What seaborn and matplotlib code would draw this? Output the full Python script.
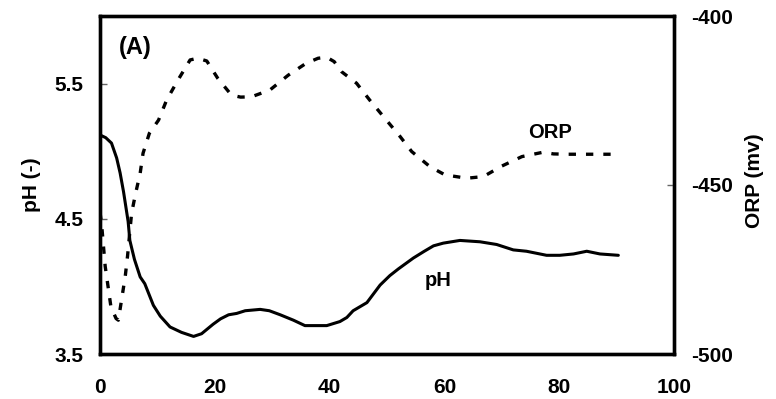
import matplotlib
matplotlib.use("Agg")
import matplotlib.pyplot as plt
import seaborn as sns
import pandas as pd

# ---- data ----
ph_time = [0, 1, 2, 2.9, 3.5, 4.1, 4.9, 5.2, 6.0, 7.0, 7.8, 9.3, 10.5, 12.2, 14.2,
           16.3, 17.7, 19.7, 21.0, 22.4, 23.8, 25.3, 27.9, 29.5, 31.4, 33.7, 35.7,
           37.5, 39.5, 41.8, 43.0, 44.1, 46.5, 48.8, 50.5, 52.0, 54.6, 56.5, 58.1,
           59.8, 62.7, 66.2, 69.1, 72.0, 74.3, 77.8, 80.1, 82.5, 84.8, 87.1, 90.3]
ph_values = [5.12, 5.10, 5.06, 4.95, 4.84, 4.70, 4.48, 4.34, 4.20, 4.07, 4.02, 3.86,
             3.78, 3.70, 3.66, 3.63, 3.65, 3.72, 3.76, 3.79, 3.80, 3.82, 3.83, 3.82,
             3.79, 3.75, 3.71, 3.71, 3.71, 3.74, 3.77, 3.82, 3.88, 4.01, 4.08, 4.13,
             4.21, 4.26, 4.30, 4.32, 4.34, 4.33, 4.31, 4.27, 4.26, 4.23, 4.23, 4.24,
             4.26, 4.24, 4.23]

orp_time = [0, 0.3, 0.6, 0.9, 1.4, 1.9, 2.8, 3.2, 3.8, 4.4, 4.8, 5.5, 6.2, 7.0, 7.5,
            8.6, 10.2, 11.6, 13.6, 15.7, 17.0, 18.6, 20.5, 22.9, 24.5, 26.4, 29.6,
            32.8, 35.9, 38.0, 39.5, 40.8, 42.1, 44.7, 47.0, 49.4, 52.3, 54.3, 57.5,
            60.1, 63.9, 66.8, 70.0, 73.5, 77.2, 79.0, 81.3, 84.8, 88.3, 90.0]
orp_values = [-458, -462, -468, -474, -480, -486, -489.5, -490, -483.5, -477, -471,
              -458.4, -452.5, -446.5, -440.6, -434.7, -430.8, -424.9, -418.9, -413.0,
              -412.5, -413.3, -418.4, -423.4, -424.0, -423.9, -421.9, -417.5, -414.0,
              -412.5, -412.2, -413.5, -416.5, -419.9, -424.9, -429.8, -435.7, -440.1,
              -444.6, -447.0, -448.0, -447.5, -444.4, -441.6, -440.3, -440.8, -440.9,
              -440.9, -440.9, -440.9]

x_ticks = [0, 20, 40, 60, 80, 100]
ph_ticks = [3.5, 4.5, 5.5]
orp_ticks = [-500, -450, -400]

ph_df = pd.DataFrame({"time": ph_time, "pH": ph_values})
orp_df = pd.DataFrame({"time": orp_time, "ORP": orp_values})

sns.set_style("white")
plt.rcParams["font.family"] = ["Liberation Sans", "DejaVu Sans"]
plt.rcParams["font.weight"] = "bold"
plt.rcParams["text.color"] = "black"
plt.rcParams["axes.labelcolor"] = "black"
plt.rcParams["xtick.color"] = "black"
plt.rcParams["ytick.color"] = "black"

FS = 15

fig = plt.figure(figsize=(7.76, 3.99), dpi=100)
ax = fig.add_axes([100 / 776, 45 / 399, 574 / 776, 338 / 399])
ax2 = ax.twinx()

sns.lineplot(data=ph_df, x="time", y="pH", ax=ax, color="black", lw=2.2,
             sort=False, estimator=None)
sns.lineplot(data=orp_df, x="time", y="ORP", ax=ax2, color="black", lw=2.4,
             sort=False, estimator=None, linestyle=(0, (2.2, 3.0)))

ax.set_xlim(0, 100)
ax.set_ylim(3.5, 6.0)
ax2.set_ylim(-500, -400)
ax.set_xticks(x_ticks)
ax.set_yticks(ph_ticks)
ax2.set_yticks(orp_ticks)
ax.set_xticklabels([str(v) for v in x_ticks], fontsize=FS, fontweight="bold", color="black")
ax.set_yticklabels([str(v) for v in ph_ticks], fontsize=FS, fontweight="bold", color="black")
ax2.set_yticklabels([str(v) for v in orp_ticks], fontsize=FS, fontweight="bold", color="black")

for a in (ax, ax2):
    for s in a.spines.values():
        s.set_linewidth(2.4)
        s.set_color("black")
        s.set_visible(True)

ax.tick_params(axis="x", direction="in", length=5, width=2.2, color="black", pad=17)
ax.tick_params(axis="y", direction="in", length=5, width=1, color="#666666", pad=12)
ax2.tick_params(axis="y", direction="in", length=5, width=1, color="#666666", pad=12)

ax.set_xlabel("")
ax.set_ylabel("pH (-)", fontsize=FS, fontweight="bold", va="center", ha="center",
              color="black")
ax.yaxis.set_label_coords(-0.12, 0.5)
ax2.set_ylabel("ORP (mv)", fontsize=FS, fontweight="bold", va="center", ha="center",
               rotation=90, color="black")
ax2.yaxis.set_label_coords(1.141, 0.512)

ax.text(0.061, 0.908, "(A)", transform=ax.transAxes, fontsize=17, fontweight="bold",
        ha="center", va="center", color="black")
ax2.text(78.4, -434.5, "ORP", fontsize=14.5, fontweight="bold", ha="center", va="center",
         color="black")
ax.text(58.9, 4.04, "pH", fontsize=14.5, fontweight="bold", ha="center", va="center",
        color="black")

fig.savefig("out.png", dpi=100)
